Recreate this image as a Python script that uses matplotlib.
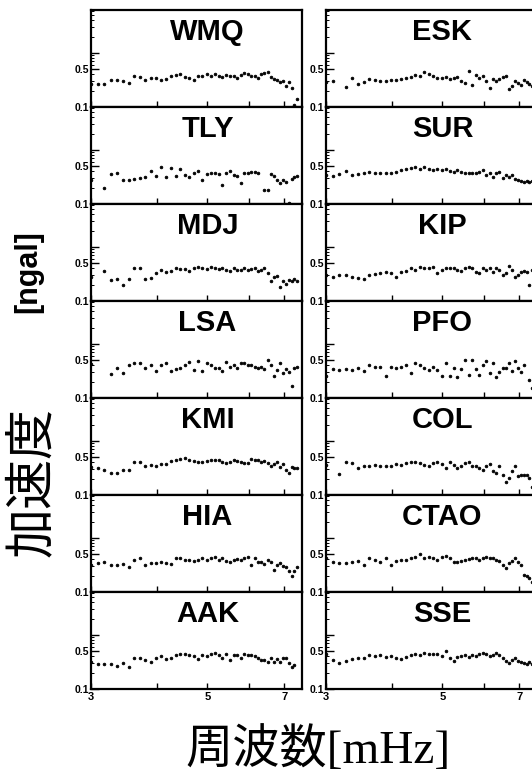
import matplotlib
matplotlib.use("Agg")
import matplotlib.pyplot as plt
import matplotlib.transforms as mtransforms
from matplotlib.ticker import LogLocator, NullLocator, NullFormatter
from matplotlib.font_manager import FontProperties
import numpy as np

nan = np.nan

# frequency [mHz]
freq = [3.00, 3.09, 3.18, 3.27, 3.36, 3.45, 3.54, 3.63, 3.72, 3.81,
        3.90, 3.99, 4.08, 4.17, 4.26, 4.35, 4.44, 4.53, 4.62, 4.71,
        4.80, 4.89, 4.98, 5.07, 5.16, 5.25, 5.34, 5.43, 5.52, 5.61,
        5.70, 5.79, 5.88, 5.97, 6.06, 6.15, 6.24, 6.33, 6.42, 6.51,
        6.60, 6.69, 6.78, 6.87, 6.96, 7.05, 7.14, 7.23, 7.32, 7.41]

# acceleration [ngal], left column
wmq = [.27, .27, .27, .31, .31, .30, .28, .37, .36, .31,
       .35, .35, .32, .33, .38, .39, .41, .36, .34, .32,
       .37, .38, .40, .38, .41, .38, .36, .39, .37, .38,
       .34, .39, .42, .40, .38, .37, .34, .40, .43, .44,
       .36, .33, .32, .29, .30, .24, .29, .22, .11, .14]
tly = [.28, nan, .20, .355, .37, .28, .28, .29, .30, .31,
       .41, .335, .49, .32, .46, .335, .445, .345, .31, .37,
       .40, .28, .355, .37, .37, .355, .225, .37, .41, .345,
       .335, .24, .37, .37, .385, .385, .37, nan, .18, .18,
       .355, .335, .28, .24, .28, .26, .105, .29, .32, .335]
mdj = [.28, nan, .36, .245, .255, .20, .26, .40, .40, .26,
       .27, .325, .375, .35, .355, .40, .39, .39, .36, .40,
       .43, .41, .39, .43, .40, .39, .41, .375, .36, .40,
       .375, .375, .40, .375, .39, .40, .36, .375, .40, .325,
       .23, .28, .295, .185, .23, .21, .245, .23, .26, .235]
lsa = [.42, nan, nan, .275, .355, .285, .40, .44, .44, .365,
       .40, .31, .40, .44, .31, .345, .365, .40, .47, .33,
       .48, .31, .44, .40, .365, .355, .31, .47, .38, .40,
       .365, .44, .45, .40, .40, .38, .355, .38, .345, .50,
       .40, .26, .33, .44, .285, .34, .30, .17, .36, .38]
kmi = [.335, .31, .29, .26, .26, .29, .29, .41, .40, .35,
       .36, .35, .37, .38, .42, .44, .46, .48, .44, .42,
       .41, .40, .42, .44, .45, .44, .41, .39, .41, .44,
       .42, .41, .39, .39, .46, .44, .44, .41, .42, .39,
       .35, .37, .41, .335, .37, .29, .25, .335, .32, .31]
hia = [.32, .34, .365, .32, .32, .325, .295, .39, .42, .32,
       .34, .35, .365, .34, .33, .42, .42, .39, .39, .375,
       .39, .42, .39, .43, .45, .39, .42, .375, .365, .39,
       .40, .39, .42, .45, .32, .42, .365, .355, .33, .39,
       .365, .255, .32, .34, .30, .285, .24, .20, .24, .285]
aak = [.31, .285, .29, .29, .27, .30, .25, .38, .375, .35,
       .32, .38, .41, .36, .38, .42, .44, .44, .42, .40,
       .36, .42, .41, .44, .47, .42, .37, .44, .35, .43,
       .42, .37, .44, .43, .42, .40, .38, .34, .35, .31,
       .37, .32, .355, .31, .38, .37, .30, .26, .28, nan]

# right column
esk = [.285, .30, nan, .23, .34, .265, .285, .33, .31, .30,
       .30, .31, .31, .33, .35, .36, .39, .38, .44, .40,
       .38, .34, .35, .36, .33, .34, .36, .30, .275, .46,
       .25, .39, .34, .38, .30, .22, .33, .30, .33, .36,
       .38, .215, .24, .30, .275, .25, .31, .29, .265, .24]
sur = [.345, .335, .355, .41, .345, .355, .38, .39, .38, .38,
       .38, .37, .39, .42, .44, .46, .48, .45, .48, .45,
       .42, .44, .42, .45, .40, .39, .42, .39, .38, .37,
       .37, .38, .39, .42, .34, .38, .315, .37, .39, .30,
       .345, .315, .345, .29, .28, .27, .26, .27, .255, .27]
kip = [.30, .28, .30, .30, .28, .27, .255, .30, .31, .325,
       .345, .335, .28, .345, .355, .40, .375, .43, .40, .40,
       .43, .325, .375, .40, .41, .40, .375, .36, .40, .43,
       .40, .345, .325, .41, .375, .40, .345, .40, .375, .30,
       .325, .44, .375, .28, .30, .345, .355, .345, .20, .375]
pfo = [.25, .345, .335, .345, .335, .355, .315, .40, .38, .38,
       .26, .37, .355, .38, .40, .29, .44, .40, .355, .33,
       .38, .335, .25, .44, .26, .355, .24, .345, .50, .27,
       .51, .345, .265, .40, .48, .29, .44, .24, .30, .355,
       .365, .44, .31, .48, .355, .30, .40, nan, .215, .15]
col = [.36, nan, .24, .40, .385, .32, .35, .35, .36, .35,
       .34, .35, .37, .36, .385, .41, .40, .385, .36, .34,
       .385, .40, .37, .32, .41, .36, .31, .34, .385, .40,
       .34, .35, .32, .29, .34, .37, .28, .255, .34, .235,
       .175, .21, .28, .34, .22, .23, .235, .23, .21, .14]
ctao = [.42, .365, .34, .34, .365, .375, .32, .42, .39, .365,
        .42, .32, .375, .39, .39, .42, .45, .50, .42, .45,
        .42, .39, .45, .465, .43, .365, .365, .375, .39, .40,
        .42, .43, .39, .42, .45, .42, .43, .39, .375, .32,
        .28, .34, .375, .42, .365, .32, .21, .20, .18, .155]
sse = [.44, .34, .30, .33, .36, .38, .37, .42, .41, .42,
       .39, .41, .38, .36, .39, .42, .45, .42, .47, .45,
       .44, .45, .41, .50, .37, .33, .39, .41, .42, .39,
       .42, .41, .44, .47, .45, .41, .42, .47, .43, .37,
       .33, .30, .35, .37, .33, .32, .30, .29, .31, .29]

left_names = ["WMQ", "TLY", "MDJ", "LSA", "KMI", "HIA", "AAK"]
left_data = [wmq, tly, mdj, lsa, kmi, hia, aak]
right_names = ["ESK", "SUR", "KIP", "PFO", "COL", "CTAO", "SSE"]
right_data = [esk, sur, kip, pfo, col, ctao, sse]

W, H = 532, 775
fig = plt.figure(figsize=(W / 100, H / 100), dpi=100)

col_x = [91, 326]
ax_w = 211
top = 10
ph = 97
yfont = FontProperties(family="Liberation Sans", weight="bold", size=7.5)
xfont = FontProperties(family="Liberation Sans", weight="bold", size=8)

for c, (names, datas) in enumerate([(left_names, left_data), (right_names, right_data)]):
    for r in range(7):
        y0 = top + r * ph
        ax = fig.add_axes([col_x[c] / W, 1 - (y0 + ph) / H, ax_w / W, ph / H])
        ax.plot(freq, datas[r], 'o', color='black', ms=2.0, mec='black', mew=0.5)
        ax.set_xscale('log')
        ax.set_yscale('log')
        ax.set_xlim(3, 7.57)
        ax.set_ylim(0.1, 6.2)
        for s in ax.spines.values():
            s.set_linewidth(1.6)
        ax.xaxis.set_minor_locator(NullLocator())
        ax.xaxis.set_minor_formatter(NullFormatter())
        if r == 6:
            ax.set_xticks([3, 4, 5, 6, 7], ['3', '', '5', '', '7'])
        else:
            ax.set_xticks([3, 4, 5, 6, 7], ['', '', '', '', ''])
        ax.set_yticks([0.1, 0.5, 1], ['0.1', '0.5', ''])
        ax.yaxis.set_minor_locator(LogLocator(base=10, subs=np.arange(2, 10)))
        ax.yaxis.set_minor_formatter(NullFormatter())
        ax.tick_params(axis='x', which='major', direction='in', length=4, width=1, pad=2)
        ax.tick_params(axis='y', which='major', direction='in', length=6, width=1, pad=1)
        ax.tick_params(axis='y', which='minor', direction='in', length=2.5, width=0.7)
        for lab in ax.get_xticklabels():
            lab.set_fontproperties(xfont)
        for lab in ax.get_yticklabels():
            lab.set_fontproperties(yfont)
        trans = mtransforms.blended_transform_factory(ax.transData, ax.transAxes)
        ax.text(5, 0.69, names[r], transform=trans, ha='center', va='baseline',
                fontsize=21, family='Liberation Sans', weight='bold')

fig.text(28 / W, 1 - 272 / H, '[ngal]', rotation=90, ha='center', va='center',
         fontsize=22, family='Liberation Sans', weight='bold')
fig.text(32 / W, 1 - 482 / H, '加速度', rotation=90, ha='center', va='center',
         fontsize=36, family=['Noto Sans CJK JP'])
fig.text(318 / W, 1 - 750 / H, '周波数[mHz]', ha='center', va='center',
         fontsize=34, family=['Liberation Serif', 'Noto Sans CJK JP'])

fig.savefig('out.png', dpi=100)
